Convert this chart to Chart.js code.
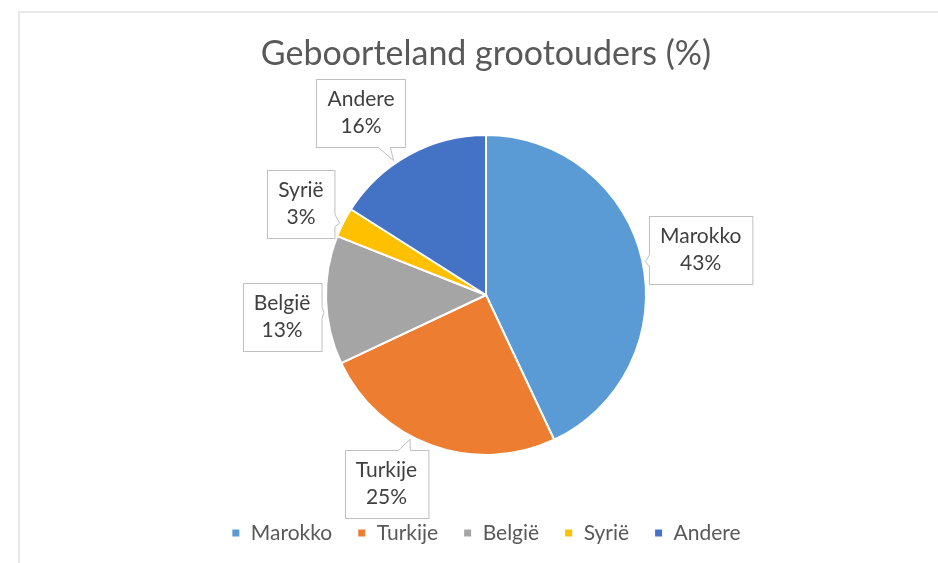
<!DOCTYPE html>
<html>
<head>
<meta charset="utf-8">
<script src="https://cdn.jsdelivr.net/npm/chart.js@4"></script>
<style>
  html, body { margin: 0; padding: 0; background: #fff; }
  #wrap { width: 938px; height: 563px; position: relative; }
</style>
</head>
<body>
<div id="wrap"><canvas id="pie"></canvas></div>
<script>
const countries = ['Marokko', 'Turkije', 'België', 'Syrië', 'Andere'];
const shares = [43, 25, 13, 3, 16];
const sliceColors = ['#5B9BD5', '#ED7D31', '#A5A5A5', '#FFC000', '#4472C4'];

const FONT = 'Lato, "Open Sans", sans-serif';

// faint frame at top and left, like the copied excel chart
const framePlugin = {
    id: 'frame',
    beforeDraw(chart) {
        const ctx = chart.ctx;
        ctx.save();
        ctx.strokeStyle = '#e9e9e9';
        ctx.lineWidth = 2;
        ctx.beginPath();
        ctx.moveTo(19, chart.height);
        ctx.lineTo(19, 12);
        ctx.lineTo(chart.width, 12);
        ctx.stroke();
        ctx.restore();
    }
};

// callout boxes with a little pointer towards the slice
const calloutPlugin = {
    id: 'callouts',
    afterDatasetsDraw(chart, args, opts) {
        const ctx = chart.ctx;
        const meta = chart.getDatasetMeta(0);
        ctx.save();
        ctx.font = opts.size + 'px ' + FONT;
        meta.data.forEach((arc, i) => {
            const p = arc.getProps(['x', 'y', 'startAngle', 'endAngle', 'outerRadius'], true);
            const mid = (p.startAngle + p.endAngle) / 2;
            const nudge = opts.nudge[i] || [0, 0];
            const cx = p.x + Math.cos(mid) * opts.distance + nudge[0];
            const cy = p.y + Math.sin(mid) * opts.distance + nudge[1];
            const lines = [countries[i], shares[i] + '%'];
            const w = Math.max(...lines.map(t => ctx.measureText(t).width)) + opts.padX * 2;
            const h = opts.lineHeight * 2 + opts.padY * 2;
            const left = Math.round(cx - w / 2) + 0.5;
            const top = Math.round(cy - h / 2) + 0.5;

            // tip on the pie edge, in the direction of the box
            const dx = cx - p.x, dy = cy - p.y, d = Math.hypot(dx, dy);
            const tx = p.x + dx / d * (p.outerRadius + 3);
            const ty = p.y + dy / d * (p.outerRadius + 3);

            // where the line box centre -> tip leaves the box
            const vx = tx - cx, vy = ty - cy;
            let b1, b2;
            if (Math.abs(vx) * h > Math.abs(vy) * w) {
                const ex = vx > 0 ? left + w : left;
                let ey = cy + vy * (w / 2) / Math.abs(vx);
                ey = Math.min(Math.max(ey, top + 8), top + h - 8);
                b1 = [ex, ey - 6]; b2 = [ex, ey + 6];
            } else {
                const ey = vy > 0 ? top + h : top;
                let ex = cx + vx * (h / 2) / Math.abs(vy);
                ex = Math.min(Math.max(ex, left + 8), left + w - 8);
                b1 = [ex - 6, ey]; b2 = [ex + 6, ey];
            }

            ctx.fillStyle = '#fff';
            ctx.strokeStyle = '#bfbfbf';
            ctx.lineWidth = 1;
            ctx.fillRect(left, top, w, h);
            ctx.strokeRect(left, top, w, h);

            ctx.beginPath();
            ctx.moveTo(b1[0], b1[1]);
            ctx.lineTo(tx, ty);
            ctx.lineTo(b2[0], b2[1]);
            ctx.closePath();
            ctx.fill();
            ctx.strokeStyle = '#fff';
            ctx.lineWidth = 2;
            ctx.beginPath();
            ctx.moveTo(b1[0], b1[1]);
            ctx.lineTo(b2[0], b2[1]);
            ctx.stroke();
            ctx.strokeStyle = '#bfbfbf';
            ctx.lineWidth = 1;
            ctx.beginPath();
            ctx.moveTo(b1[0], b1[1]);
            ctx.lineTo(tx, ty);
            ctx.lineTo(b2[0], b2[1]);
            ctx.stroke();

            ctx.fillStyle = '#404040';
            ctx.textAlign = 'center';
            ctx.textBaseline = 'middle';
            ctx.fillText(lines[0], cx, cy - opts.lineHeight / 2);
            ctx.fillText(lines[1], cx, cy + opts.lineHeight / 2);
        });
        ctx.restore();
    }
};

new Chart(document.getElementById('pie'), {
    type: 'pie',
    data: {
        labels: countries,
        datasets: [{
            data: shares,
            backgroundColor: sliceColors,
            borderColor: '#fff',
            borderWidth: 2,
            radius: 160
        }]
    },
    options: {
        responsive: true,
        maintainAspectRatio: false,
        animation: false,
        layout: {
            padding: { left: 34, right: 0, top: 0, bottom: 9.5 }
        },
        plugins: {
            title: {
                display: true,
                text: 'Geboorteland grootouders (%)',
                color: '#595959',
                font: { family: FONT, size: 34, weight: 'normal' },
                padding: { top: 34, bottom: 17.7 }
            },
            legend: {
                position: 'bottom',
                labels: {
                    color: '#595959',
                    font: { family: FONT, size: 21 },
                    boxWidth: 9,
                    boxHeight: 9,
                    padding: 25
                }
            },
            tooltip: { enabled: false },
            callouts: {
                size: 21,
                lineHeight: 27,
                padX: 11,
                padY: 7,
                distance: 220,
                nudge: [[0, 3], [-25, -18], [16, 15], [11, 9], [-19, 11]]
            }
        }
    },
    plugins: [framePlugin, calloutPlugin]
});
</script>
</body>
</html>
